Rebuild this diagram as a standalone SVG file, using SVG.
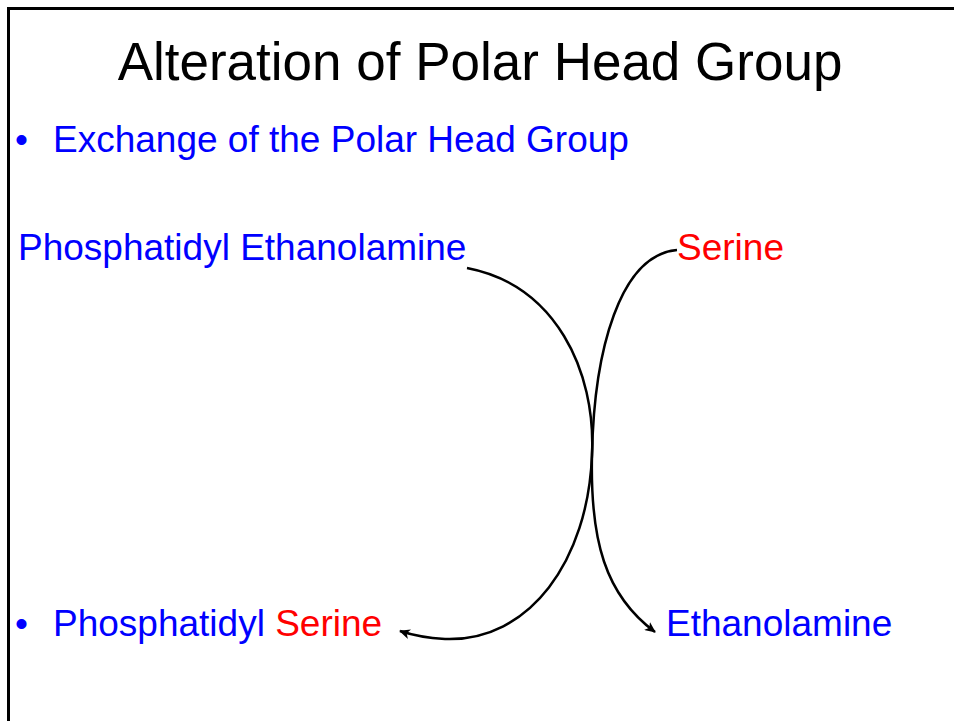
<svg xmlns="http://www.w3.org/2000/svg" width="954" height="721" viewBox="0 0 954 721">
<style>
text{font-family:"Liberation Sans",Arial,sans-serif}
.t{font-size:53px;fill:#000}
.b{font-size:37px;fill:#0000ff}
.r{fill:#ff0000}
.c{fill:none;stroke:#000;stroke-width:2.5}
</style>
<defs>
<marker id="ah" markerWidth="12" markerHeight="10" refX="10" refY="5" orient="auto" markerUnits="userSpaceOnUse">
<path d="M0,0 L11,5 L0,10 L3,5 Z" fill="#000"/>
</marker>
</defs>
<rect width="954" height="721" fill="#fff"/>
<path d="M8.5,721 V8.5 H954" fill="none" stroke="#000" stroke-width="3"/>
<g id="title"><text class="t" x="480" y="80" text-anchor="middle">Alteration of Polar Head Group</text></g>
<g id="bullet1"><text class="b" x="15" y="152">•</text><text class="b" x="53" y="152">Exchange of the Polar Head Group</text></g>
<g id="pe"><text class="b" x="18" y="260">Phosphatidyl Ethanolamine</text></g>
<g id="serine"><text class="b r" x="677" y="260">Serine</text></g>
<g id="ps"><text class="b" x="15" y="636">•</text><text class="b" x="53" y="636">Phosphatidyl <tspan class="r">Serine</tspan></text></g>
<g id="etn"><text class="b" x="666" y="636">Ethanolamine</text></g>
<g id="connectors">
<path class="c" d="M467,268 C555,285 596,370 592,455 C588,560 530,642 445,639 C428,638 412,635 400,631" marker-end="url(#ah)"/>
<path class="c" d="M677,250 C620,255 594,350 592,455 C590,540 605,595 655,632" marker-end="url(#ah)"/>
</g>
</svg>
